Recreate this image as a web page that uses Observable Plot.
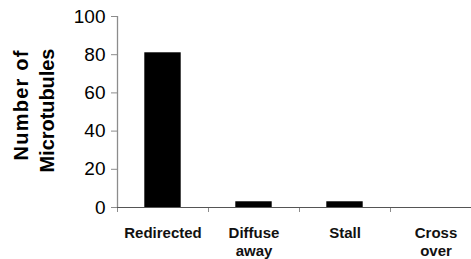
<!DOCTYPE html>
<html>
<head>
<meta charset="utf-8">
<script src="https://cdn.jsdelivr.net/npm/d3@7"></script>
<script src="https://cdn.jsdelivr.net/npm/@observablehq/plot@0.6"></script>
<style>
  html, body { margin: 0; padding: 0; background: #fff; overflow: hidden; }
  svg { font-family: Arial, "Liberation Sans", sans-serif; }
</style>
</head>
<body>
<div id="chart"></div>
<script>
const categories = ["Redirected", "Diffuse\naway", "Stall", "Cross\nover"];
const counts = [81, 3, 3, 0];
const yTicks = [0, 20, 40, 60, 80, 100];
const yTitleLines = ["Number of", "Microtubules"];

const data = categories.map((c, i) => ({i, c, v: counts[i]}));
const separators = categories.map((c, i) => i - 0.5);
const barHalf = 0.2;

const chart = Plot.plot({
  width: 471,
  height: 259,
  marginLeft: 117,
  marginRight: -10,
  marginTop: 16,
  marginBottom: 52,
  style: {fontFamily: "Arial, 'Liberation Sans', sans-serif", fontSize: "16px", background: "#fff", overflow: "visible"},
  x: {domain: [-0.5, categories.length - 0.5], axis: null},
  y: {domain: [0, 100], axis: null},
  marks: [
    Plot.rectY(data, {x1: d => d.i - barHalf, x2: d => d.i + barHalf, y1: 0, y2: "v", fill: "#000"}),
    Plot.ruleX([-0.5], {y1: 0, y2: 100, stroke: "#8c8c8c", strokeWidth: 1.3}),
    Plot.axisY({ticks: yTicks, tickSize: 6, tickPadding: 6, stroke: "#8c8c8c", fill: "#000", fontSize: 19, label: null, x: -0.5, anchor: "left"}),
    Plot.axisX({ticks: separators, tickSize: 5, tickFormat: () => "", stroke: "#8c8c8c", label: null, y: 0}),
    Plot.axisX({ticks: data.map(d => d.i), tickSize: 0, tickPadding: 18, tickFormat: i => categories[i], fontSize: 15, fontWeight: "bold", lineHeight: 1.2, label: null, stroke: "none", fill: "#111", y: 0}),
    Plot.ruleY([0], {stroke: "#555", strokeWidth: 1.2}),
    Plot.text([yTitleLines[0]], {frameAnchor: "top-left", rotate: -90, textAnchor: "start", lineAnchor: "bottom", dx: -90, dy: 144, fontSize: 20, fontWeight: "bold", fill: "#000"}),
    Plot.text([yTitleLines[1]], {frameAnchor: "top-left", rotate: -90, textAnchor: "start", lineAnchor: "bottom", dx: -64, dy: 156, fontSize: 20, fontWeight: "bold", fill: "#000"})
  ]
});
// stretch title lines slightly to the reference's text lengths
const titleLengths = {"Number of": 110, "Microtubules": 124};
chart.querySelectorAll("text").forEach(t => {
  const s = t.textContent;
  if (titleLengths[s]) {
    t.setAttribute("textLength", titleLengths[s]);
    t.setAttribute("lengthAdjust", "spacing");
  }
});
document.getElementById("chart").appendChild(chart);
</script>
</body>
</html>
